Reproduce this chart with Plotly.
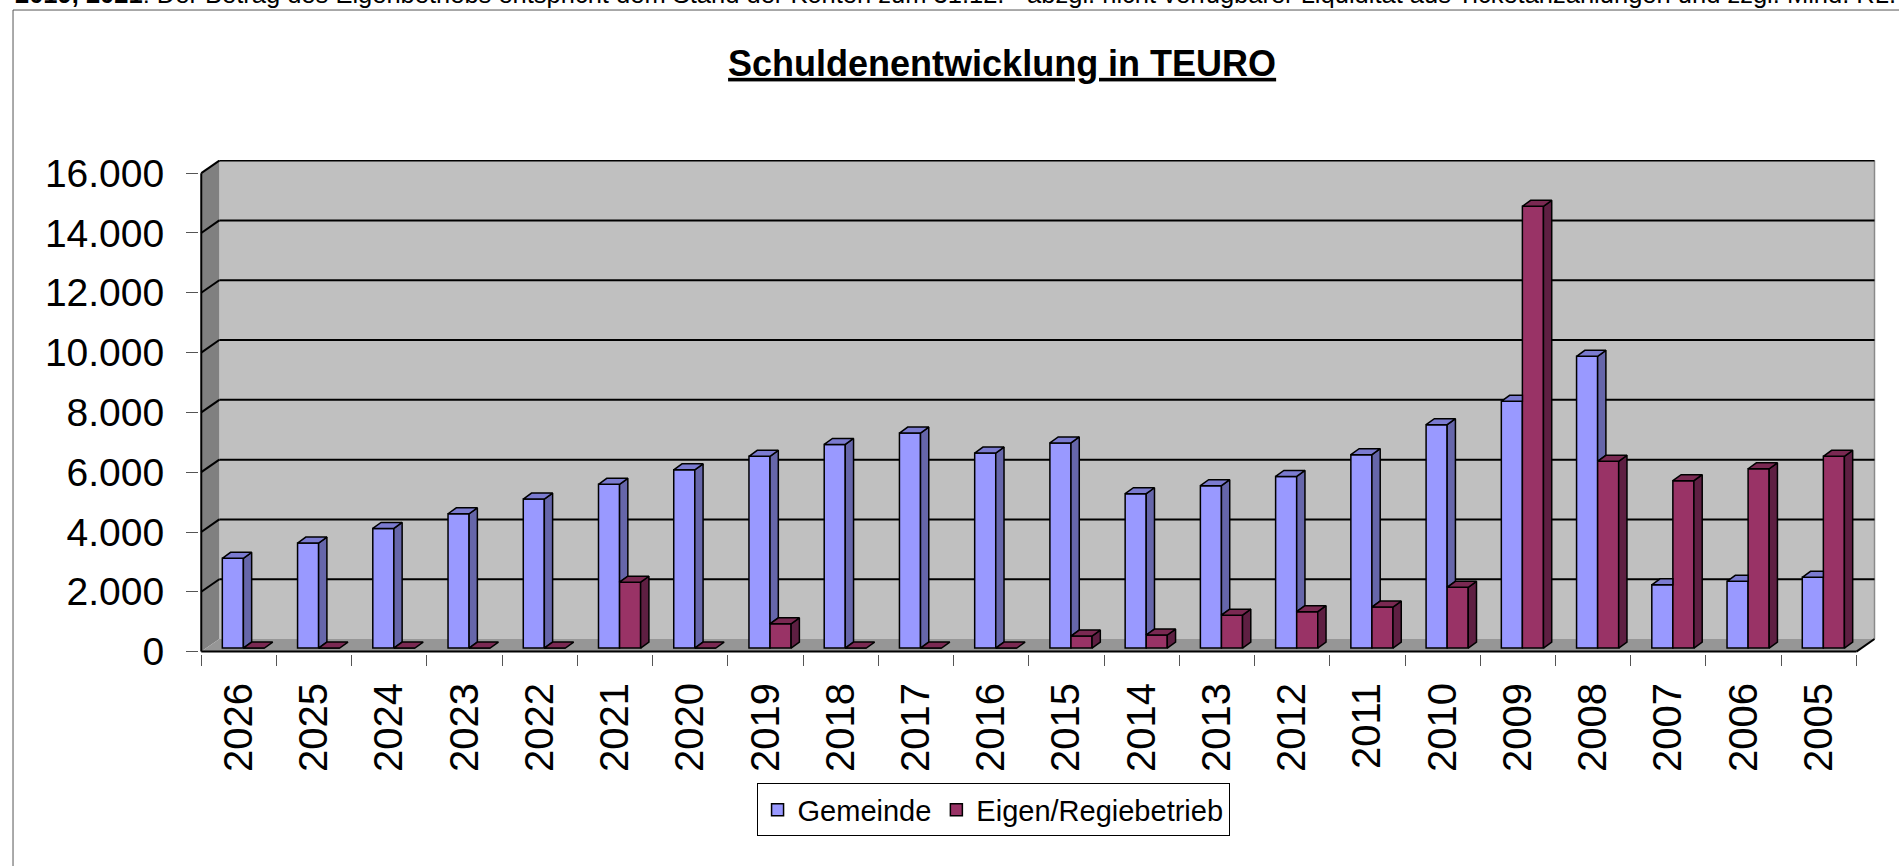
import plotly.graph_objects as go

# ---------------- data ----------------
years = ["2026", "2025", "2024", "2023", "2022", "2021", "2020", "2019", "2018", "2017", "2016",
         "2015", "2014", "2013", "2012", "2011", "2010", "2009", "2008", "2007", "2006", "2005"]
gemeinde = [3000, 3510, 4000, 4490, 4980, 5475, 5960, 6410, 6810, 7190, 6520,
            6860, 5160, 5430, 5740, 6465, 7470, 8250, 9755, 2115, 2230, 2365]
eigen = [0, 0, 0, 0, 0, 2200, 0, 810, 0, 0, 0,
         400, 435, 1100, 1215, 1370, 2030, 14770, 6245, 5595, 5995, 6410]
y_ticks = [0, 2000, 4000, 6000, 8000, 10000, 12000, 14000, 16000]
y_ticktext = ["0", "2.000", "4.000", "6.000", "8.000", "10.000", "12.000", "14.000", "16.000"]
series_names = ["Gemeinde", "Eigen/Regiebetrieb"]
title_text = "Schuldenentwicklung in TEURO"
note_text = ("<b>2019, 2021</b>: Der Betrag des Eigenbetriebs entspricht dem Stand der Konten zum 31.12. "
             "- abzgl. nicht verfügbarer Liquidität aus Ticketanzahlungen und zzgl. Mind. RL.")

# ---------------- style / geometry ----------------
FONT = "Liberation Sans, Arial, sans-serif"
G_FRONT, G_SIDE, G_TOP = "#9999FF", "#6666AA", "#7B7BD0"
E_FRONT, E_SIDE, E_TOP = "#993366", "#5E1F42", "#7A2952"
BAR_W, G_OFF, E_OFF = 0.28, -0.22, 0.06
BASE = 120          # bars stand slightly behind the front floor edge
DDX, DDY = 0.11, 200  # bar depth (3D look)
DX, DY = 0.24, 420    # wall depth
N = len(years)
idx = list(range(N))

fig = go.Figure()

fig.add_trace(go.Bar(x=idx, y=gemeinde, base=BASE, width=BAR_W, offset=G_OFF, name=series_names[0],
                     marker=dict(color=G_FRONT, line=dict(color="black", width=1.5)),
                     customdata=years, hovertemplate="%{customdata}: %{y}<extra>Gemeinde</extra>"))
fig.add_trace(go.Bar(x=idx, y=eigen, base=BASE, width=BAR_W, offset=E_OFF, name=series_names[1],
                     marker=dict(color=E_FRONT, line=dict(color="black", width=1.5)),
                     customdata=years, hovertemplate="%{customdata}: %{y}<extra>Eigen/Regiebetrieb</extra>"))

g_sides, g_tops, e_sides, e_tops = [], [], [], []
for i in idx:
    g, e = gemeinde[i], eigen[i]
    gx0 = i + G_OFF
    gx1 = gx0 + BAR_W
    ex0 = i + E_OFF
    ex1 = ex0 + BAR_W
    if g > e:
        g_sides.append([(gx1, BASE + e), (gx1 + DDX, BASE + e + DDY),
                        (gx1 + DDX, BASE + g + DDY), (gx1, BASE + g)])
        g_tops.append([(gx0, BASE + g), (gx1, BASE + g),
                       (gx1 + DDX, BASE + g + DDY), (gx0 + DDX, BASE + g + DDY)])
    else:
        g_tops.append([(gx0, BASE + g), (gx1, BASE + g),
                       (gx1, BASE + g + DDY), (gx0 + DDX, BASE + g + DDY)])
    if e > 0:
        e_sides.append([(ex1, BASE), (ex1 + DDX, BASE + DDY),
                        (ex1 + DDX, BASE + e + DDY), (ex1, BASE + e)])
    e_tops.append([(ex0, BASE + e), (ex1, BASE + e),
                   (ex1 + DDX, BASE + e + DDY), (ex0 + DDX, BASE + e + DDY)])


def poly_trace(polys, color):
    xs, ys = [], []
    for p in polys:
        for a, b in p:
            xs.append(a)
            ys.append(b)
        xs.append(p[0][0])
        ys.append(p[0][1])
        xs.append(None)
        ys.append(None)
    return go.Scatter(x=xs, y=ys, mode="lines", fill="toself", fillcolor=color,
                      line=dict(color="black", width=1.5), showlegend=False, hoverinfo="skip")


for polys, col in [(g_sides, G_SIDE), (g_tops, G_TOP), (e_sides, E_SIDE), (e_tops, E_TOP)]:
    fig.add_trace(poly_trace(polys, col))

# ---------------- walls & gridlines ----------------
x_front0, x_front1 = -0.5, N - 0.5
y_top = y_ticks[-1]
shapes = []
shapes.append(dict(type="rect", xref="x", yref="y", x0=x_front0 + DX, x1=x_front1 + DX, y0=DY, y1=y_top + DY,
                   fillcolor="#C0C0C0", line=dict(width=0), layer="between"))
shapes.append(dict(type="path", xref="x", yref="y",
                   path=f"M{x_front0},0 L{x_front0 + DX},{DY} L{x_front0 + DX},{y_top + DY} L{x_front0},{y_top} Z",
                   fillcolor="#808080", line=dict(width=0), layer="between"))
shapes.append(dict(type="path", xref="x", yref="y",
                   path=f"M{x_front0},0 L{x_front1},0 L{x_front1 + DX},{DY} L{x_front0 + DX},{DY} Z",
                   fillcolor="#969696", line=dict(width=0), layer="between"))
shapes.append(dict(type="line", xref="x", yref="y", x0=x_front1 + DX, x1=x_front1 + DX, y0=DY, y1=y_top + DY,
                   line=dict(color="#8A8A8A", width=1.5), layer="between"))
for v in y_ticks[1:]:
    shapes.append(dict(type="line", xref="x", yref="y", x0=x_front0 + DX, x1=x_front1 + DX, y0=v + DY, y1=v + DY,
                       line=dict(color="black", width=2), layer="between"))
    shapes.append(dict(type="line", xref="x", yref="y", x0=x_front0, x1=x_front0 + DX, y0=v, y1=v + DY,
                       line=dict(color="black", width=2), layer="between"))
shapes.append(dict(type="line", xref="x", yref="y", x0=x_front0, x1=x_front0, y0=0, y1=y_top,
                   line=dict(color="black", width=2), layer="between"))
shapes.append(dict(type="line", xref="x", yref="y", x0=x_front0, x1=x_front1, y0=0, y1=0,
                   line=dict(color="black", width=2), layer="between"))
shapes.append(dict(type="line", xref="x", yref="y", x0=x_front1, x1=x_front1 + DX, y0=0, y1=DY,
                   line=dict(color="black", width=2), layer="between"))
# chart-area border
shapes.append(dict(type="rect", xref="paper", yref="paper", x0=-0.1109, x1=1.2, y0=-1.0, y1=1.3036,
                   line=dict(color="#555555", width=1), fillcolor="rgba(0,0,0,0)", layer="above"))

fig.update_layout(
    width=1899, height=866, template="none",
    paper_bgcolor="white", plot_bgcolor="rgba(0,0,0,0)",
    margin=dict(l=199, r=23, t=160, b=212, autoexpand=False),
    barmode="overlay",
    font=dict(family=FONT, color="black"),
    shapes=shapes,
    title=dict(text=title_text, x=0.5277, xanchor="center", xref="container",
               y=0.927, yanchor="middle", yref="container",
               font=dict(size=36, family=FONT, color="black", weight="bold", lineposition="under")),
    xaxis=dict(range=[-0.53, 21.76], tickmode="array", tickvals=idx, ticktext=years, tickangle=-90,
               ticks="", showgrid=False, zeroline=False, showline=False, automargin=False,
               tickfont=dict(size=40, color="black", family=FONT), ticklabelstandoff=20,
               minor=dict(tickmode="array", tickvals=[i - 0.5 for i in range(N + 1)], ticks="outside",
                          ticklen=11, tickcolor="#555555", tickwidth=1, showgrid=False)),
    yaxis=dict(range=[-80, 16440], tickmode="array", tickvals=y_ticks, ticktext=y_ticktext,
               ticks="outside", ticklen=12, tickcolor="#555555", tickwidth=1,
               showgrid=False, zeroline=False, showline=False, automargin=False,
               tickfont=dict(size=39, color="black", family=FONT), ticklabelstandoff=14),
    legend=dict(orientation="h", x=0.4735, xanchor="center", y=-0.262, yanchor="top",
                bordercolor="black", borderwidth=1, bgcolor="white", itemwidth=30,
                font=dict(size=29, family=FONT, color="black"), traceorder="normal"),
    annotations=[dict(text=note_text, xref="paper", yref="paper", x=-0.1109, y=1.3036,
                      xanchor="left", yanchor="bottom", showarrow=False, align="left",
                      font=dict(size=25.5, family=FONT, color="black"))],
)

fig.write_html("out.html", config={"displayModeBar": False},
               post_script="document.body.style.margin='0';document.body.style.overflow='hidden';")
